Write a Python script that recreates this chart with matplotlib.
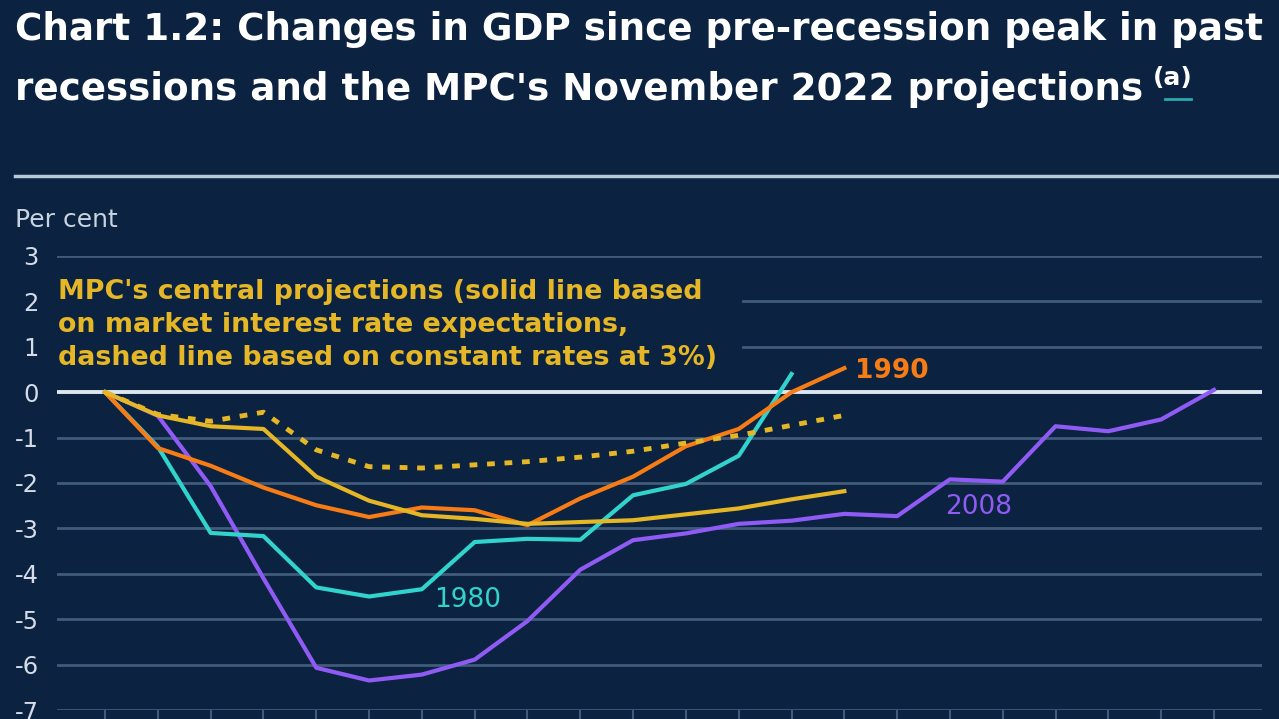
import matplotlib.pyplot as plt
from matplotlib.lines import Line2D

# ====== DATA ======
quarters_1980 = list(range(0, 14))
gdp_1980 = [0, -1.2, -3.1, -3.17, -4.3, -4.5, -4.34, -3.3, -3.23, -3.25, -2.27, -2.02, -1.4, 0.4]

quarters_1990 = list(range(0, 15))
gdp_1990 = [0, -1.23, -1.62, -2.1, -2.49, -2.75, -2.54, -2.6, -2.93, -2.34, -1.86, -1.19, -0.81, 0.0, 0.53]

quarters_2008 = list(range(0, 22))
gdp_2008 = [0, -0.52, -2.07, -4.1, -6.07, -6.35, -6.22, -5.89, -5.04, -3.91, -3.26, -3.11,
            -2.9, -2.83, -2.68, -2.73, -1.92, -1.97, -0.75, -0.86, -0.6, 0.05]

quarters_mpc = list(range(0, 15))
mpc_market = [0, -0.51, -0.75, -0.81, -1.86, -2.39, -2.71, -2.79, -2.9, -2.86, -2.82, -2.69, -2.56, -2.36, -2.18]
mpc_constant = [0, -0.49, -0.64, -0.44, -1.27, -1.64, -1.67, -1.6, -1.53, -1.43, -1.3, -1.12, -0.95, -0.73, -0.51]

y_ticks = list(range(-7, 4))

# ====== STYLE ======
bg = "#0b2240"
grid_col = "#405b7b"
cyan = "#31d3cd"
orange = "#f87c16"
purple = "#8f5bf4"
gold = "#e5b626"

plt.rcParams['axes.unicode_minus'] = False
plt.rcParams['font.family'] = ['DejaVu Sans']

W, H = 1279, 719
fig = plt.figure(figsize=(W / 100, H / 100), dpi=100, facecolor=bg)

# Title
fig.text(15 / W, 1 - 29 / H, "Chart 1.2: Changes in GDP since pre-recession peak in past",
         fontsize=26.8, weight='bold', color='white', va='center', ha='left')
line2 = fig.text(15 / W, 1 - 89 / H, "recessions and the MPC's November 2022 projections",
                 fontsize=26.8, weight='bold', color='white', va='center', ha='left')

# superscript note marker placed right after line 2
fig.canvas.draw()
bb = line2.get_window_extent(renderer=fig.canvas.get_renderer())
x_a = bb.x1 + 10
fig.text(x_a / W, 1 - 78 / H, "(a)", fontsize=18, weight='bold', color='white', va='center', ha='left')
fig.add_artist(Line2D([(x_a + 12) / W, (x_a + 38) / W], [1 - 99 / H] * 2, color="#2aa8b0", lw=2))

# Separator line
fig.add_artist(Line2D([15 / W, 1.0], [1 - 176 / H] * 2, color="#b9c7d6", lw=2.5))

fig.text(15 / W, 1 - 220 / H, "Per cent", fontsize=18, color="#c9d4e0", va='center', ha='left')

# ====== AXES ======
ax = fig.add_axes([57 / W, 1 - 710 / H, (1262 - 57) / W, (710 - 256) / H])
ax.set_facecolor(bg)
ax.set_xlim(-0.91, 21.91)
ax.set_ylim(-7, 3)
for s in ax.spines.values():
    s.set_visible(False)

for y in y_ticks:
    if y == 0:
        ax.axhline(y, color="#dce6f0", lw=2.8, zorder=2)
    elif y in (1, 2):
        # the note box hides the left part of these lines
        ax.axhline(y, xmin=(743 - 57) / (1262 - 57), color=grid_col, lw=2, zorder=1)
    else:
        ax.axhline(y, color=grid_col, lw=2, zorder=1)

ax.set_yticks(y_ticks)
ax.set_yticklabels([str(v) for v in y_ticks])
ax.tick_params(axis='y', length=0, pad=13, labelsize=17.5, labelcolor="#d3dce7")
ax.set_xticks(range(0, 22))
ax.set_xticklabels([])
ax.tick_params(axis='x', length=12, width=1.5, color=grid_col, direction='out')

# ====== LINES ======
ax.plot(quarters_2008, gdp_2008, color=purple, lw=3, zorder=3, clip_on=False)
ax.plot(quarters_1980, gdp_1980, color=cyan, lw=3, zorder=4, clip_on=False)
ax.plot(quarters_1990, gdp_1990, color=orange, lw=3, zorder=5, clip_on=False)
ax.plot(quarters_mpc, mpc_market, color=gold, lw=3, zorder=6, clip_on=False)
ax.plot(quarters_mpc, mpc_constant, color=gold, lw=3.5, linestyle=(0, (1.6, 2.0)), zorder=6, clip_on=False)

# ====== LABELS ======
ax.text(-0.9, 2.5,
        "MPC's central projections (solid line based\non market interest rate expectations,\ndashed line based on constant rates at 3%)",
        fontsize=19.4, weight='bold', color=gold, va='top', ha='left', linespacing=1.37, zorder=7)
ax.text(6.87, -4.58, "1980", fontsize=19, color=cyan, ha='center', va='center', zorder=7)
ax.text(14.2, 0.47, "1990", fontsize=19, weight='bold', color=orange, ha='left', va='center', zorder=7)
ax.text(16.55, -2.53, "2008", fontsize=19, color=purple, ha='center', va='center', zorder=7)

plt.savefig("out.png", dpi=100, facecolor=bg)
